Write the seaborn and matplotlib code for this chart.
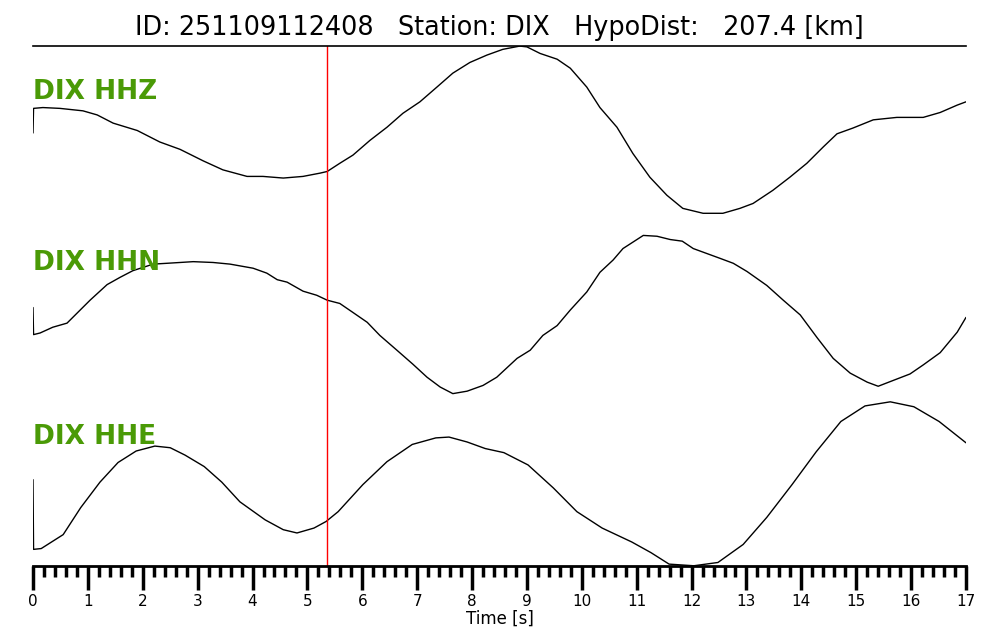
import numpy as np
import pandas as pd
import matplotlib
matplotlib.use("Agg")
import matplotlib.pyplot as plt
import seaborn as sns
from matplotlib.ticker import MultipleLocator

# -----------------------------------------------------------------------------
# data (normalised amplitudes)
# -----------------------------------------------------------------------------
event_id = "251109112408"
station = "DIX"
hypo_dist = 207.4
pick_time = 5.36
channels = ["HHZ", "HHN", "HHE"]

t_hhz = [0.00, 0.01, 0.18, 0.49, 0.91, 1.17, 1.46, 1.90, 2.31, 2.68, 3.10, 3.46,
         3.90, 4.19, 4.56, 4.92, 5.23, 5.36, 5.59, 5.83, 6.14, 6.45, 6.74, 7.05,
         7.36, 7.65, 7.96, 8.27, 8.56, 8.87, 9.00, 9.24, 9.55, 9.79, 10.09, 10.33,
         10.64, 10.93, 11.24, 11.55, 11.84, 12.21, 12.57, 12.88, 13.12, 13.48,
         13.79, 14.10, 14.40, 14.65, 14.94, 15.31, 15.74, 16.22, 16.53, 16.84, 17.00]
a_hhz = [-0.04, 0.26, 0.27, 0.26, 0.23, 0.18, 0.08, -0.01, -0.15, -0.24, -0.38, -0.49,
         -0.57, -0.57, -0.59, -0.57, -0.53, -0.51, -0.41, -0.31, -0.13, 0.03, 0.20, 0.34,
         0.52, 0.69, 0.82, 0.91, 0.98, 1.02, 1.01, 0.93, 0.86, 0.75, 0.52, 0.27,
         0.03, -0.29, -0.58, -0.80, -0.96, -1.02, -1.02, -0.96, -0.90, -0.74,
         -0.58, -0.41, -0.21, -0.05, 0.02, 0.12, 0.15, 0.15, 0.21, 0.30, 0.34]

t_hhn = [0.00, 0.01, 0.13, 0.36, 0.62, 0.80, 1.04, 1.35, 1.59, 1.82, 2.19, 2.44,
         2.92, 3.28, 3.59, 4.01, 4.26, 4.45, 4.63, 4.92, 5.17, 5.36, 5.59, 5.83,
         6.09, 6.32, 6.63, 6.92, 7.18, 7.42, 7.65, 7.91, 8.20, 8.45, 8.82, 9.06,
         9.29, 9.55, 9.79, 10.09, 10.33, 10.57, 10.75, 11.12, 11.37, 11.61, 11.83,
         12.03, 12.52, 12.76, 13.01, 13.37, 13.67, 13.98, 14.29, 14.58, 14.89,
         15.20, 15.40, 15.67, 15.98, 16.22, 16.53, 16.84, 17.00]
a_hhn = [0.07, -0.26, -0.24, -0.17, -0.12, 0.00, 0.16, 0.35, 0.44, 0.52, 0.60, 0.61,
         0.63, 0.62, 0.60, 0.55, 0.49, 0.41, 0.38, 0.27, 0.22, 0.16, 0.12, 0.01,
         -0.11, -0.27, -0.45, -0.62, -0.78, -0.90, -0.98, -0.95, -0.88, -0.78, -0.55, -0.45,
         -0.27, -0.15, 0.04, 0.26, 0.50, 0.65, 0.79, 0.95, 0.94, 0.90, 0.88,
         0.79, 0.67, 0.61, 0.51, 0.34, 0.16, -0.02, -0.30, -0.55, -0.73,
         -0.84, -0.89, -0.82, -0.74, -0.63, -0.48, -0.23, -0.05]

t_hhe = [0.00, 0.01, 0.15, 0.55, 0.87, 1.22, 1.55, 1.88, 2.22, 2.50, 2.77, 3.12,
         3.44, 3.77, 4.23, 4.56, 4.81, 5.12, 5.34, 5.56, 6.01, 6.45, 6.91, 7.34,
         7.58, 7.91, 8.24, 8.58, 9.02, 9.48, 9.91, 10.37, 10.91, 11.26, 11.59,
         12.04, 12.48, 12.94, 13.37, 13.83, 14.27, 14.72, 15.16, 15.62, 16.05,
         16.51, 17.00]
a_hhe = [0.05, -0.80, -0.79, -0.62, -0.29, 0.02, 0.26, 0.40, 0.46, 0.44, 0.35, 0.21,
         0.02, -0.22, -0.44, -0.56, -0.60, -0.54, -0.46, -0.34, -0.01, 0.27, 0.48, 0.56,
         0.57, 0.51, 0.43, 0.38, 0.23, -0.05, -0.34, -0.54, -0.71, -0.84, -0.98,
         -1.00, -0.96, -0.74, -0.41, -0.01, 0.39, 0.76, 0.95, 1.00, 0.94,
         0.76, 0.50]

traces = [(t_hhz, a_hhz), (t_hhn, a_hhn), (t_hhe, a_hhe)]

# layout: vertical offset of each trace and of its label
offsets = [-1.02, -3.26, -5.34]
label_dy = [0.46, 0.61, 0.57]

# -----------------------------------------------------------------------------
# style
# -----------------------------------------------------------------------------
sns.set_style("white")
plt.rcParams['font.family'] = ['DejaVu Sans']
plt.rcParams['text.color'] = 'black'
plt.rcParams['axes.labelcolor'] = 'black'
plt.rcParams['xtick.color'] = 'black'

fig = plt.figure(figsize=(10, 6.4), dpi=100)
ax = fig.add_axes([0.033, 0.116, 0.933, 0.812])

for (t, a), off, ch, dy in zip(traces, offsets, channels, label_dy):
    df = pd.DataFrame({'t': t, 'y': np.array(a) + off})
    sns.lineplot(data=df, x='t', y='y', ax=ax, color='black', linewidth=1.0,
                 sort=False, estimator=None)
    ax.text(0, off + dy, f"{station} {ch}", color='#4a9a06', fontsize=19,
            fontweight='bold', ha='left', va='center', zorder=5)

ax.axvline(pick_time, color='red', linewidth=1)

ax.set_xlim(0, 17)
ax.set_ylim(-6.34, 0)

for side in ['left', 'right']:
    ax.spines[side].set_visible(False)
for side in ['top', 'bottom']:
    ax.spines[side].set_visible(True)
    ax.spines[side].set_color('black')
ax.spines['top'].set_linewidth(1.2)
ax.spines['bottom'].set_linewidth(2)

ax.set_yticks([])
ax.xaxis.set_major_locator(MultipleLocator(1))
ax.xaxis.set_minor_locator(MultipleLocator(0.2))
ax.tick_params(axis='x', which='major', direction='out', length=17, width=2.5,
               labelsize=11, pad=3, bottom=True, colors='black')
ax.tick_params(axis='x', which='minor', direction='out', length=8, width=2.5,
               bottom=True, color='black')

ax.set_xlabel('Time [s]', fontsize=12, labelpad=1)
ax.set_ylabel('')
ax.set_title(f"ID: {event_id}   Station: {station}   HypoDist:   {hypo_dist} [km]",
             fontsize=18.4, pad=8, color='black')

plt.savefig('out.png', dpi=100)
